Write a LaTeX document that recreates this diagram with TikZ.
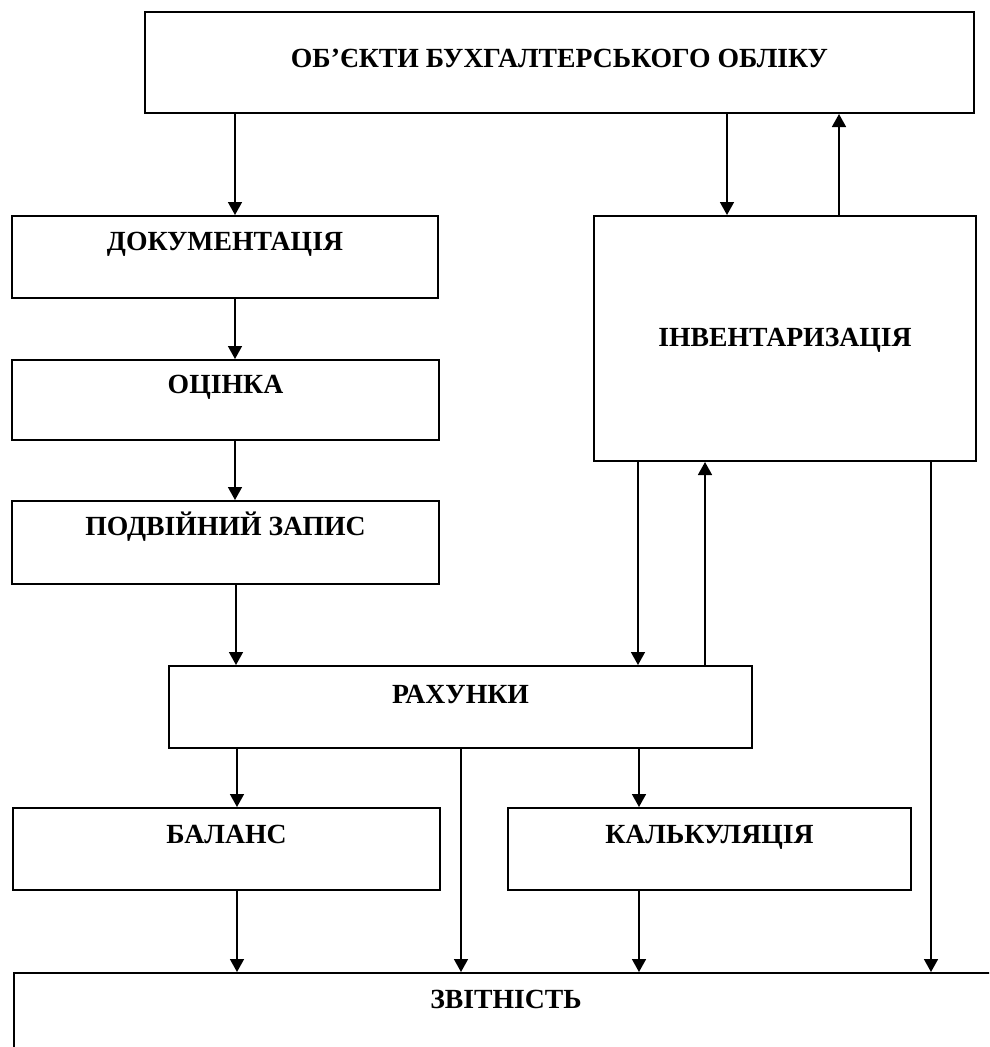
\documentclass[tikz,border=0pt]{standalone}
\usepackage{fontspec}
\setmainfont{Liberation Serif}
\usetikzlibrary{arrows.meta}
\begin{document}
\begin{tikzpicture}[x=1pt,y=-1pt,
  box/.style={draw, line width=2pt, inner xsep=0pt, inner ysep=0pt, font=\bfseries\fontsize{27.7}{30}\selectfont, anchor=north west},
  arr/.style={line width=1.6pt, -{Triangle[length=13pt,width=14pt]}}]
\useasboundingbox (0,0) rectangle (989,1047);
\clip (0,0) rectangle (989,1047);
% boxes: top-left corner, width, text height, text depth
\node[box, minimum width=829pt, text height=55pt, text depth=46pt] (obj) at (144,11) {ОБ’ЄКТИ БУХГАЛТЕРСЬКОГО ОБЛІКУ};
\node[box, minimum width=426pt, text height=34pt, text depth=48pt] (doc) at (11,215) {ДОКУМЕНТАЦІЯ};
\node[box, minimum width=382pt, text height=130pt, text depth=115pt] (inv) at (593,215) {ІНВЕНТАРИЗАЦІЯ};
\node[box, minimum width=427pt, text height=33pt, text depth=47pt] (ots) at (11,359) {ОЦІНКА};
\node[box, minimum width=427pt, text height=34pt, text depth=49pt] (zap) at (11,500) {ПОДВІЙНИЙ ЗАПИС};
\node[box, minimum width=583pt, text height=37pt, text depth=45pt] (rah) at (168,665) {РАХУНКИ};
\node[box, minimum width=427pt, text height=35pt, text depth=47pt] (bal) at (12,807) {БАЛАНС};
\node[box, minimum width=403pt, text height=35pt, text depth=47pt] (kal) at (507,807) {КАЛЬКУЛЯЦІЯ};
\node[box, minimum width=984pt, text height=35pt, text depth=85pt] (zvit) at (13,972) {ЗВІТНІСТЬ};
% connectors
\draw[arr] (obj.south -| 235,0) -- (doc.north -| 235,0);
\draw[arr] (obj.south -| 727,0) -- (inv.north -| 727,0);
\draw[arr] (inv.north -| 839,0) -- (obj.south -| 839,0);
\draw[arr] (doc.south -| 235,0) -- (ots.north -| 235,0);
\draw[arr] (ots.south -| 235,0) -- (zap.north -| 235,0);
\draw[arr] (zap.south -| 236,0) -- (rah.north -| 236,0);
\draw[arr] (inv.south -| 638,0) -- (rah.north -| 638,0);
\draw[arr] (rah.north -| 705,0) -- (inv.south -| 705,0);
\draw[arr] (inv.south -| 931,0) -- (zvit.north -| 931,0);
\draw[arr] (rah.south -| 237,0) -- (bal.north -| 237,0);
\draw[arr] (rah.south -| 639,0) -- (kal.north -| 639,0);
\draw[arr] (rah.south -| 461,0) -- (zvit.north -| 461,0);
\draw[arr] (bal.south -| 237,0) -- (zvit.north -| 237,0);
\draw[arr] (kal.south -| 639,0) -- (zvit.north -| 639,0);
\end{tikzpicture}
\end{document}
